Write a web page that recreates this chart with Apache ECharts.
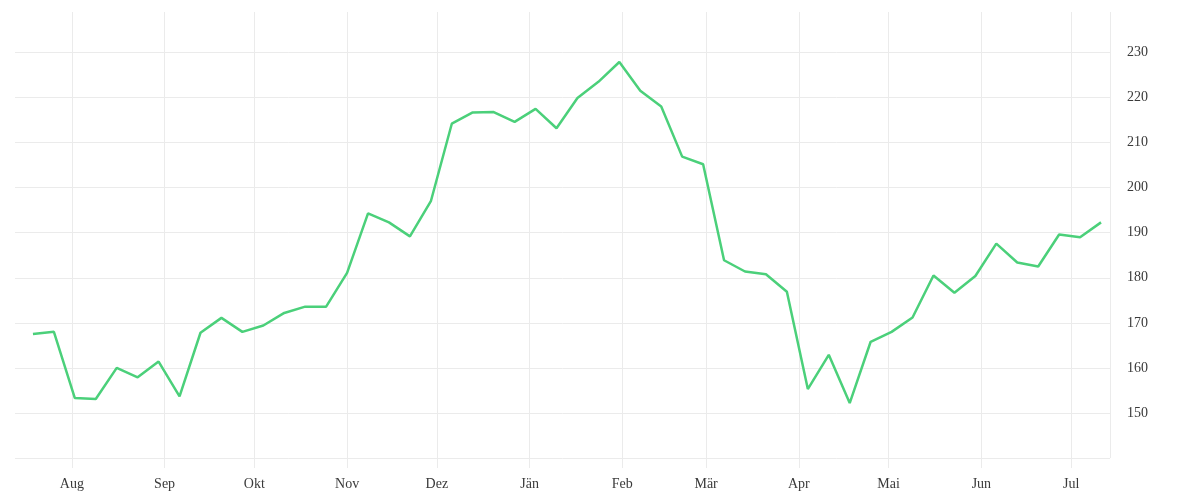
<!DOCTYPE html>
<html>
<head>
<meta charset="utf-8">
<script src="https://cdn.jsdelivr.net/npm/echarts@6/dist/echarts.min.js"></script>
<style>
html,body{margin:0;padding:0;background:#fff;}
#chart{width:1200px;height:500px;}
</style>
</head>
<body>
<div id="chart"></div>
<script>
const dates = [
  '2022-07-19','2022-07-26','2022-08-02','2022-08-09','2022-08-16','2022-08-23','2022-08-30',
  '2022-09-06','2022-09-13','2022-09-20','2022-09-27','2022-10-04','2022-10-11','2022-10-18',
  '2022-10-25','2022-11-01','2022-11-08','2022-11-15','2022-11-22','2022-11-29','2022-12-06',
  '2022-12-13','2022-12-20','2022-12-27','2023-01-03','2023-01-10','2023-01-17','2023-01-24',
  '2023-01-31','2023-02-07','2023-02-14','2023-02-21','2023-02-28','2023-03-07','2023-03-14',
  '2023-03-21','2023-03-28','2023-04-04','2023-04-11','2023-04-18','2023-04-25','2023-05-02',
  '2023-05-09','2023-05-16','2023-05-23','2023-05-30','2023-06-06','2023-06-13','2023-06-20',
  '2023-06-27','2023-07-04','2023-07-11'
];
const values = [
  167.5, 168.0, 153.3, 153.1, 160.0, 157.9, 161.4,
  153.7, 167.8, 171.1, 168.0, 169.4, 172.2, 173.6,
  173.6, 181.1, 194.3, 192.3, 189.2, 197.0, 214.2,
  216.7, 216.8, 214.6, 217.5, 213.2, 219.9, 223.5,
  227.9, 221.5, 218.0, 206.9, 205.2, 183.9, 181.4,
  180.8, 176.9, 155.3, 162.9, 152.2, 165.8, 168.0,
  171.2, 180.5, 176.7, 180.4, 187.6, 183.4, 182.5,
  189.6, 189.0, 192.3
];
const monthNames = ['Jän','Feb','Mär','Apr','Mai','Jun','Jul','Aug','Sep','Okt','Nov','Dez'];
const xMin = '2022-07-13';
const xMax = '2023-07-14';
const yMin = 140, yMax = 239, yStep = 10;

const gridColor = '#ebebeb';
const textColor = '#3a3a3a';
const fontFamily = '"Liberation Serif", serif';

const chart = echarts.init(document.getElementById('chart'), null, {renderer: 'canvas'});
chart.setOption({
  backgroundColor: '#ffffff',
  animation: false,
  grid: {left: 15, right: 90, top: 12, bottom: 42, containLabel: false},
  xAxis: {
    type: 'time',
    min: xMin,
    max: xMax,
    splitNumber: 12,
    minInterval: 28 * 86400000,
    maxInterval: 31 * 86400000,
    axisLine: {show: false},
    axisTick: {show: true, length: 10, lineStyle: {color: gridColor, width: 1}},
    splitLine: {show: true, showMinLine: false, showMaxLine: true, lineStyle: {color: gridColor, width: 1}},
    axisLabel: {
      color: textColor,
      fontFamily: fontFamily,
      fontSize: 14,
      margin: 19,
      hideOverlap: false,
      formatter: function (v) { return monthNames[new Date(v).getMonth()]; }
    }
  },
  yAxis: {
    type: 'value',
    position: 'right',
    min: yMin,
    max: yMax,
    interval: yStep,
    axisLine: {show: false},
    axisTick: {show: false},
    splitLine: {show: true, showMaxLine: false, lineStyle: {color: gridColor, width: 1}},
    axisLabel: {
      color: textColor,
      fontFamily: fontFamily,
      fontSize: 14,
      margin: 17,
      showMinLabel: false,
      showMaxLabel: false
    }
  },
  series: [{
    type: 'line',
    data: dates.map((d, i) => [d, values[i]]),
    showSymbol: false,
    symbol: 'none',
    lineStyle: {color: '#4bd07a', width: 2.5},
    itemStyle: {color: '#4bd07a'}
  }]
});
</script>
</body>
</html>
